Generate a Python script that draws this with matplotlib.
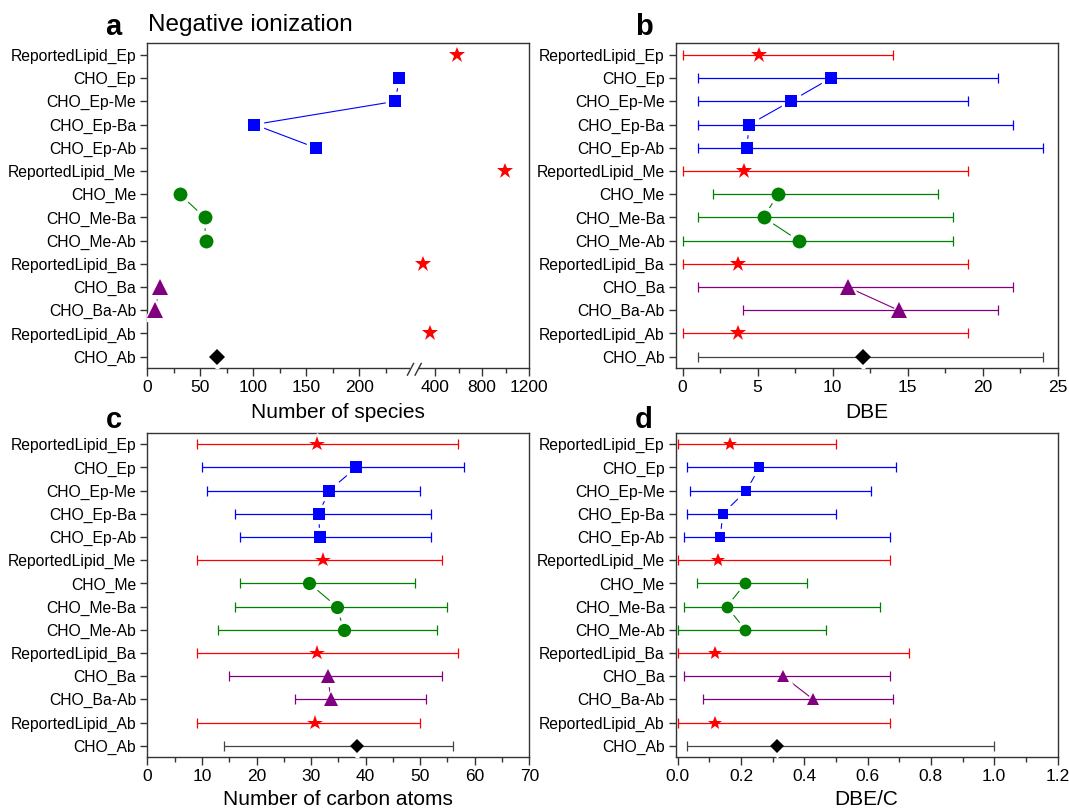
import numpy as np
import matplotlib
matplotlib.use("Agg")
import matplotlib.pyplot as plt
from matplotlib.ticker import FixedLocator, MultipleLocator
from matplotlib.patches import Rectangle

plt.rcParams['font.family'] = ['Liberation Sans', 'DejaVu Sans']

# categories, top to bottom
labels = ['ReportedLipid_Ep', 'CHO_Ep', 'CHO_Ep-Me', 'CHO_Ep-Ba', 'CHO_Ep-Ab',
          'ReportedLipid_Me', 'CHO_Me', 'CHO_Me-Ba', 'CHO_Me-Ab',
          'ReportedLipid_Ba', 'CHO_Ba', 'CHO_Ba-Ab',
          'ReportedLipid_Ab', 'CHO_Ab']

# a: number of species
species = [587, 238, 234, 101, 159, 995, 30.6, 54, 55, 297, 11.5, 7, 361, 65.6]

# b: DBE (mean, min, max)
dbe_mean = [5.13, 9.9, 7.2, 4.45, 4.28, 4.1, 6.37, 5.4, 7.75, 3.73, 11.0, 14.4, 3.7, 12.05]
dbe_min = [0, 1, 1, 1, 1, 0, 2, 1, 0, 0, 1, 4, 0, 1]
dbe_max = [14, 21, 19, 22, 24, 19, 17, 18, 18, 19, 22, 21, 19, 24]

# c: number of carbon atoms
carbon_mean = [31.1, 38.3, 33.3, 31.4, 31.6, 32.1, 29.7, 34.7, 36.0, 31.1, 33.1, 33.6, 30.8, 38.4]
carbon_min = [9, 10, 11, 16, 17, 9, 17, 16, 13, 9, 15, 27, 9, 14]
carbon_max = [57, 58, 50, 52, 52, 54, 49, 55, 53, 57, 54, 51, 50, 56]

# d: DBE/C
dbec_mean = [0.165, 0.258, 0.217, 0.142, 0.135, 0.126, 0.214, 0.155, 0.214, 0.119, 0.333, 0.428, 0.119, 0.314]
dbec_min = [0, 0.03, 0.04, 0.03, 0.02, 0, 0.06, 0.02, 0, 0, 0.02, 0.08, 0, 0.03]
dbec_max = [0.50, 0.69, 0.61, 0.50, 0.67, 0.67, 0.41, 0.64, 0.47, 0.73, 0.67, 0.68, 0.67, 1.0]

# groups: rows, colour, errorbar colour, marker, marker size, connected
groups = [
    ([0, 5, 9, 12], '#ff0000', '#ff0000', '*', 12.0, False),
    ([1, 2, 3, 4], '#0000ff', '#0000ff', 's', 8.7, True),
    ([6, 7, 8], '#008000', '#008000', 'o', 10.0, True),
    ([10, 11], '#800080', '#800080', '^', 11.0, True),
    ([13], '#000000', '#444444', 'D', 8.0, False),
]

W, H = 1069, 810
fig = plt.figure(figsize=(W / 100, H / 100), dpi=100)


def px_axes(l, t, r, b):
    return fig.add_axes([l / W, 1 - b / H, (r - l) / W, (b - t) / H])


def draw_panel(ax, mean, lo=None, hi=None, scale=1.0):
    y = np.arange(len(labels))
    mean = np.asarray(mean, dtype=float)
    for rows, color, ecolor, marker, ms, connected in groups:
        xs, ys = mean[rows], y[rows]
        size = ms * scale
        if connected:
            ax.plot(xs, ys, color=color, lw=0.8, zorder=2)
        # white halo leaves a gap in the connecting line around each symbol
        ax.plot(xs, ys, ls='none', marker=marker, ms=size + 4.5, color='white',
                mec='white', zorder=3)
        if lo is not None:
            l = np.asarray(lo, dtype=float)[rows]
            h = np.asarray(hi, dtype=float)[rows]
            ax.errorbar(xs, ys, xerr=[xs - l, h - xs], fmt='none', ecolor=ecolor,
                        elinewidth=0.9, capsize=3.5, capthick=0.9, zorder=4)
        ax.plot(xs, ys, ls='none', marker=marker, ms=size, color=color,
                mec=color, mew=0, zorder=5)

    ax.set_yticks(y)
    ax.set_yticklabels(labels)
    ax.set_ylim(13.5, -0.5)
    for s in ax.spines.values():
        s.set_linewidth(1.0)
        s.set_color('#333333')
    ax.tick_params(axis='y', length=5, width=1, color='#333333', pad=3,
                   labelsize=11.3, right=False)
    ax.tick_params(axis='x', which='major', length=6, width=1, color='#333333',
                   pad=2.5, labelsize=12.5, top=False)
    ax.tick_params(axis='x', which='minor', length=3.5, width=1, color='#333333',
                   top=False)


# broken x scale for panel a: 0-250 linear, then compressed 250-1200
BRK, GAP, K = 250.0, 4.9, 0.1113


def fwd(x):
    x = np.asarray(x, dtype=float)
    return np.where(x <= BRK, x, BRK + GAP + (x - BRK) * K)


def inv(v):
    v = np.asarray(v, dtype=float)
    return np.where(v <= BRK, v,
                    np.where(v < BRK + GAP, BRK, BRK + (v - BRK - GAP) / K))


ax_a = px_axes(147.4, 43.3, 529.3, 368.3)
ax_a.set_xscale('function', functions=(fwd, inv))
draw_panel(ax_a, species)
ax_a.set_xlim(0, 1200)
ax_a.xaxis.set_major_locator(FixedLocator([0, 50, 100, 150, 200, 400, 800, 1200]))
ax_a.xaxis.set_minor_locator(FixedLocator([25, 75, 125, 175, 225, 600, 1000]))
ax_a.set_xticklabels(['0', '50', '100', '150', '200', '400', '800', '1200'])
ax_a.set_xlabel('Number of species', fontsize=15, labelpad=5.5)

# break marks on the bottom axis
ax_a.add_patch(Rectangle((0.688, -0.012), 0.021, 0.024, transform=ax_a.transAxes,
                         facecolor='white', edgecolor='none', clip_on=False, zorder=10))
for x0 in (0.681, 0.701):
    ax_a.plot([x0, x0 + 0.016], [-0.021, 0.015], transform=ax_a.transAxes,
              color='#333333', lw=1.0, clip_on=False, zorder=11)

ax_b = px_axes(675.8, 43.3, 1057.5, 368.3)
draw_panel(ax_b, dbe_mean, dbe_min, dbe_max)
ax_b.set_xlim(-0.45, 25)
ax_b.xaxis.set_major_locator(MultipleLocator(5))
ax_b.xaxis.set_minor_locator(MultipleLocator(2.5))
ax_b.set_xlabel('DBE', fontsize=15, labelpad=5.5)

ax_c = px_axes(147.4, 432.7, 529.3, 757.3)
draw_panel(ax_c, carbon_mean, carbon_min, carbon_max, scale=0.95)
ax_c.set_xlim(0, 70)
ax_c.xaxis.set_major_locator(MultipleLocator(10))
ax_c.xaxis.set_minor_locator(MultipleLocator(5))
ax_c.set_xlabel('Number of carbon atoms', fontsize=15, labelpad=4)

ax_d = px_axes(675.8, 432.7, 1057.5, 757.3)
draw_panel(ax_d, dbec_mean, dbec_min, dbec_max, scale=0.85)
ax_d.set_xlim(-0.006, 1.2)
ax_d.xaxis.set_major_locator(MultipleLocator(0.2))
ax_d.xaxis.set_minor_locator(MultipleLocator(0.1))
ax_d.set_xlabel('DBE/C', fontsize=15, labelpad=4)


def ftext(x, y, s, **kw):
    fig.text(x / W, 1 - y / H, s, va='baseline', ha='left', **kw)


ftext(105, 35, 'a', fontsize=21, fontweight='bold')
ftext(148, 30.5, 'Negative ionization', fontsize=17.5)
ftext(635, 35, 'b', fontsize=21, fontweight='bold')
ftext(106, 428, 'c', fontsize=21, fontweight='bold')
ftext(635, 428, 'd', fontsize=21, fontweight='bold')

fig.savefig('out.png', dpi=100)
